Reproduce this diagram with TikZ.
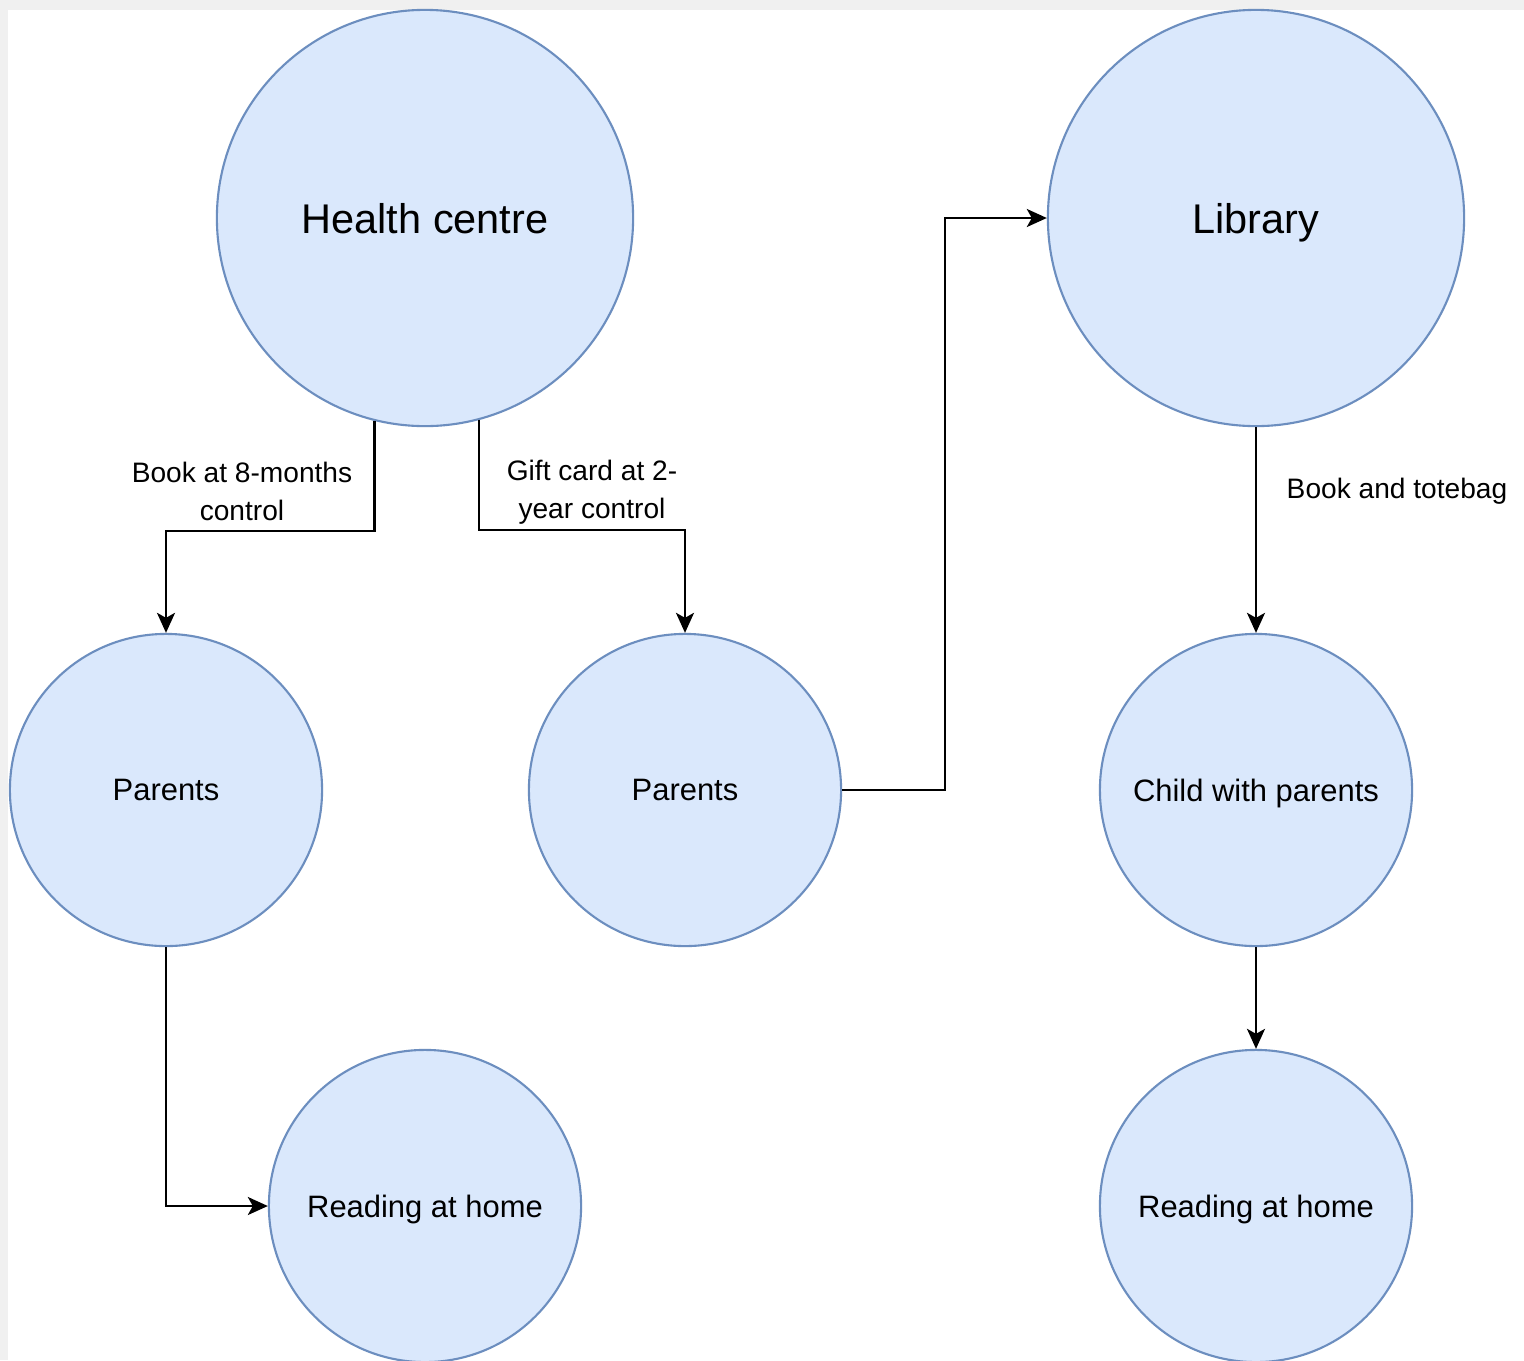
\documentclass[tikz,border=0pt]{standalone}
\usepackage{fontspec}
\setmainfont{Liberation Sans}
\usetikzlibrary{arrows.meta}

\definecolor{bubblefill}{HTML}{DAE8FC}
\definecolor{bubbleline}{HTML}{6C8EBF}
\definecolor{pagegray}{HTML}{F0F0F0}

\tikzset{
  bubble/.style={circle, draw=bubbleline, fill=bubblefill, line width=0.6pt, inner sep=0pt, text depth=0pt},
  bigbubble/.style={bubble, minimum size=4.16cm, font=\fontsize{11.8}{14}\selectfont},
  smallbubble/.style={bubble, minimum size=3.12cm, font=\fontsize{8.8}{10.5}\selectfont},
  flow/.style={draw=black, line width=0.7pt, -{Stealth[length=0.2cm, width=0.18cm, inset=0.05cm]}},
  lbl/.style={align=center, inner sep=0pt, font=\fontsize{8}{10.8}\selectfont}
}

\begin{document}
\begin{tikzpicture}[x=0.01cm, y=-0.01cm]
  \useasboundingbox (0,0) rectangle (1524,1360);
  \fill[pagegray] (0,0) rectangle (1524,1360);
  \fill[white] (8,10) rectangle (1524,1360);

  % top row
  \node[bigbubble] (health) at (425,218) {Health centre};
  \node[bigbubble] (library) at (1256,218) {Library};

  % middle row
  \node[smallbubble] (parentsA) at (166,790) {Parents};
  \node[smallbubble] (parentsB) at (685,790) {Parents};
  \node[smallbubble] (child) at (1256,790) {Child with parents};

  % bottom row
  \node[smallbubble] (readingA) at (425,1206) {Reading at home};
  \node[smallbubble] (readingB) at (1256,1206) {Reading at home};

  % edge labels
  \node[lbl] (bookLbl) at (242,491) {Book at 8-months\\control};
  \node[lbl] (giftLbl) at (592,492) {Gift card at 2-\\year control};
  \node[lbl] (toteLbl) at (1397,491) {Book and totebag};

  % connectors
  \draw[flow] (health.-104.5) -- ++(0,110) -| (parentsA);
  \draw[flow] (health.-75.5) -- ++(0,110) -| (parentsB);
  \draw[flow] (parentsB.east) -- ++(103,0) |- (library.west);
  \draw[flow] (library) -- (child);
  \draw[flow] (parentsA.south) |- (readingA.west);
  \draw[flow] (child) -- (readingB);
\end{tikzpicture}
\end{document}
